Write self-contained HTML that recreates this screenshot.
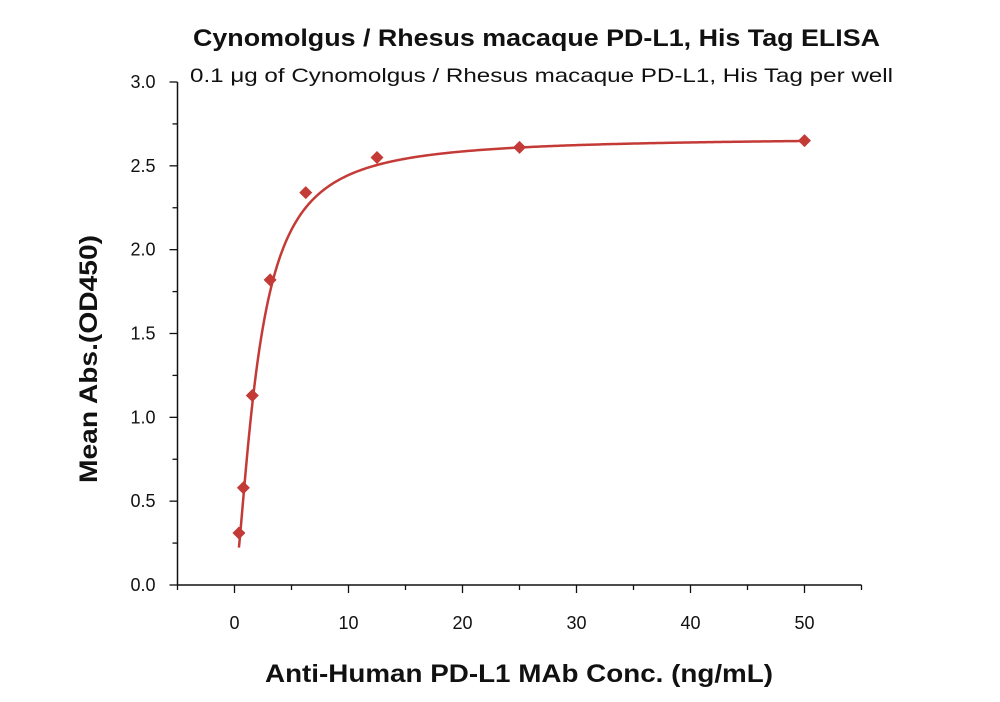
<!DOCTYPE html>
<html><head><meta charset="utf-8">
<style>
body{margin:0;background:#fff;}
svg{display:block;font-family:"Liberation Sans",Arial,sans-serif;}
</style></head>
<body>
<svg id="chart" width="1000" height="702" viewBox="0 0 1000 702">
<text x="193" y="46" font-size="24" font-weight="bold" fill="#111" textLength="687" lengthAdjust="spacingAndGlyphs">Cynomolgus / Rhesus macaque PD-L1, His Tag ELISA</text>
<text x="190" y="82" font-size="19.5" fill="#111" textLength="703" lengthAdjust="spacingAndGlyphs">0.1 μg of Cynomolgus / Rhesus macaque PD-L1, His Tag per well</text>
<text transform="translate(97,359) rotate(-90)" text-anchor="middle" font-size="25" font-weight="bold" fill="#111" textLength="248" lengthAdjust="spacingAndGlyphs">Mean Abs.(OD450)</text>
<text x="265" y="682" font-size="25" font-weight="bold" fill="#111" textLength="508" lengthAdjust="spacingAndGlyphs">Anti-Human PD-L1 MAb Conc. (ng/mL)</text>
<g id="axes"></g>
<g id="plot"></g>
</svg>
<script>
const concentrations=[0.39,0.78,1.56,3.125,6.25,12.5,25,50];
const absorbance=[0.31,0.58,1.13,1.82,2.34,2.55,2.61,2.65];
const xTicks=[0,10,20,30,40,50];
const yTicks=[0.0,0.5,1.0,1.5,2.0,2.5,3.0];
const fitParams=[0.02,2.67,2.05,1.5]; // bottom, top, EC50, hill
const NS="http://www.w3.org/2000/svg";
const X0=177.5,X1=861.5,Y0=585,Y1=82,xmin=-5,xmax=55,ymin=0,ymax=3;
const sx=v=>X0+(v-xmin)/(xmax-xmin)*(X1-X0);
const sy=v=>Y0-(v-ymin)/(ymax-ymin)*(Y0-Y1);
function mk(tag,attrs,parent){const e=document.createElementNS(NS,tag);for(const k in attrs)e.setAttribute(k,attrs[k]);parent.appendChild(e);return e;}
const axes=document.getElementById('axes'),plot=document.getElementById('plot');
let a=mk('line',{x1:X0,y1:Y0,x2:X1,y2:Y0,stroke:'#111','stroke-width':1.5},axes);


a=mk('line',{x1:X0,y1:Y0,x2:X0,y2:Y1,stroke:'#111','stroke-width':1.5},axes);


for(let v=xmin;v<=xmax+0.01;v+=5){const major=xTicks.includes(v);
 const t=mk('line',{x1:sx(v),y1:Y0,x2:sx(v),y2:Y0+(major?8:5),stroke:'#111','stroke-width':1.3},axes);
 
 }
xTicks.forEach(v=>{const t=mk('text',{x:sx(v),y:Y0+44,'text-anchor':'middle','font-size':18,fill:'#111'},axes);t.textContent=v;
 
 });
for(let v=0;v<=3.001;v+=0.25){const major=Math.abs(v*2-Math.round(v*2))<1e-6;
 const t=mk('line',{x1:X0,y1:sy(v),x2:X0-(major?8:5),y2:sy(v),stroke:'#111','stroke-width':1.3},axes);
 
 }
yTicks.forEach(v=>{const t=mk('text',{x:X0-22,y:sy(v)+6,'text-anchor':'end','font-size':18,fill:'#111'},axes);t.textContent=v.toFixed(1);
 
 });
const [b,tp,ec,h]=fitParams;
const f=x=>b+(tp-b)*Math.pow(x/ec,h)/(1+Math.pow(x/ec,h));
let d='';for(let i=0;i<=400;i++){const x=concentrations[0]+(concentrations[concentrations.length-1]-concentrations[0])*Math.pow(i/400,2);d+=(i?'L':'M')+sx(x).toFixed(2)+','+sy(f(x)).toFixed(2);}
const fit=mk('path',{d:d,fill:'none',stroke:'#c43a36','stroke-width':2.5},plot);


concentrations.forEach((c,i)=>{const x=sx(c),y=sy(absorbance[i]),r=6.5;
 const p=mk('polygon',{points:`${x},${y-r} ${x+r},${y} ${x},${y+r} ${x-r},${y}`,fill:'#c43a36'},plot);
 
 });
</script>
</body></html>
